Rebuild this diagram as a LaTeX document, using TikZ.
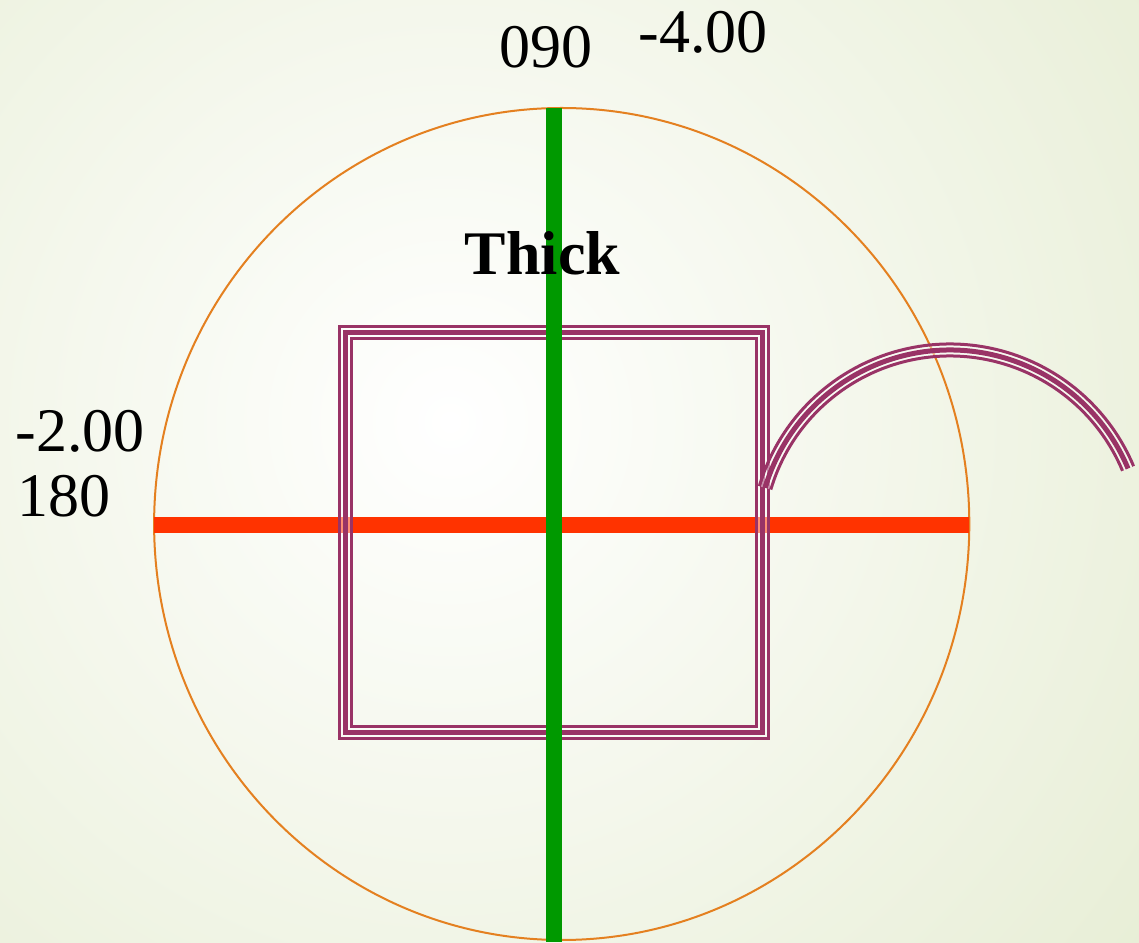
\documentclass[tikz,border=0pt]{standalone}
\usepackage{fontspec}
\setmainfont{Liberation Serif}
\definecolor{bgouter}{RGB}{219,229,192}
\definecolor{orng}{RGB}{228,128,32}
\definecolor{grn}{RGB}{0,153,0}
\definecolor{rd}{RGB}{255,51,0}
\definecolor{mag}{RGB}{153,51,102}
\tikzset{
  lbl/.style={inner sep=0pt, anchor=base, font=\fontsize{62pt}{70pt}\selectfont},
  thinstripe/.style={draw=mag, line width=3pt},
  midstripe/.style={draw=mag, line width=5pt},
  gapstripe/.style={draw=white, draw opacity=0.45, line width=2pt},
  axisline/.style={line width=16pt, line cap=butt}
}
\begin{document}
\begin{tikzpicture}[x=1pt,y=1pt, line join=miter]
\useasboundingbox (0,0) rectangle (1139,942);
\begin{scope}
  \clip (0,0) rectangle (1139,942);
  \shade[inner color=white, outer color=bgouter] (450,520) circle (1350);
\end{scope}
% circle (ellipse)
\draw[orng, line width=2pt] (561.7,418) ellipse [x radius=407.6, y radius=416];
% red axis
\coordinate (rl) at (154,417.3);
\coordinate (rr) at (969,417.3);
\draw[axisline, rd] (rl) -- (rr);
% square (triple stroke, transparent gaps)
\coordinate (sq1) at (345.5,609);
\coordinate (sq2) at (762.5,209);
\draw[gapstripe] ([shift={(-3.5,3.5)}]sq1) rectangle ([shift={(3.5,-3.5)}]sq2);
\draw[gapstripe] ([shift={(3.5,-3.5)}]sq1) rectangle ([shift={(-3.5,3.5)}]sq2);
\draw[thinstripe] ([shift={(-6,6)}]sq1) rectangle ([shift={(6,-6)}]sq2);
\draw[midstripe] (sq1) rectangle (sq2);
\draw[thinstripe] ([shift={(6,-6)}]sq1) rectangle ([shift={(-6,6)}]sq2);
% green axis
\coordinate (gt) at (554,834);
\coordinate (gb) at (554,0);
\draw[axisline, grn] (gt) -- (gb);
% arc (triple stroke)
\coordinate (ac) at (950,399);
\foreach \r/\st in {196.5/gapstripe, 189.5/gapstripe, 199/thinstripe, 193/midstripe, 187/thinstripe}{
  \draw[\st, line cap=butt] (ac) ++(163.4:\r) arc[start angle=163.4, end angle=22.7, radius=\r];
}
% labels
\node[lbl] (t090) at (546,874) {090};
\node[lbl] (tfour) at (703,889) {-4.00};
\node[lbl, font=\fontsize{62pt}{70pt}\selectfont\bfseries] (tthick) at (542.5,667) {Thick};
\node[lbl] (ttwo) at (80,490) {-2.00};
\node[lbl] (t180) at (64,425) {180};
\end{tikzpicture}
\end{document}
